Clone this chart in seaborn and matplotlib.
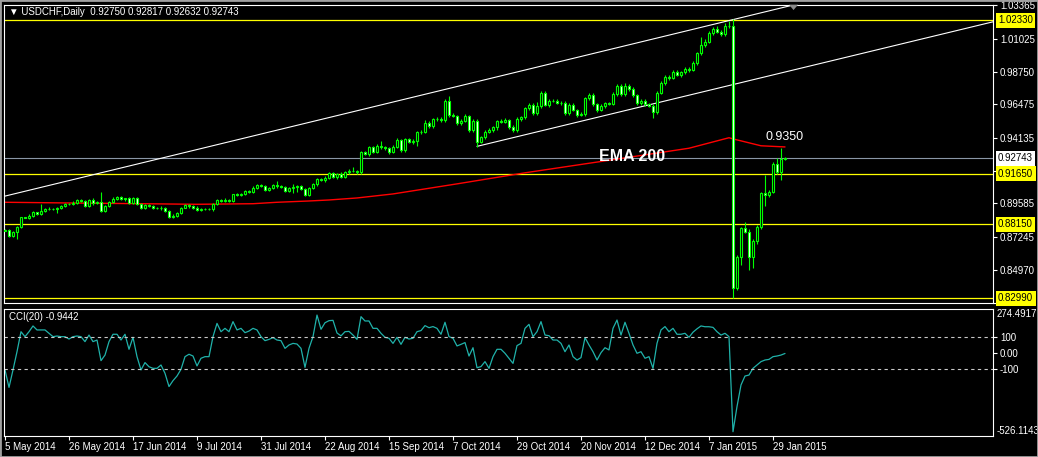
import numpy as np
import matplotlib
matplotlib.use('Agg')
import matplotlib.pyplot as plt
from matplotlib.patches import Rectangle, Polygon
import seaborn as sns

# ---- data (USDCHF daily, 5 May 2014 - 3 Feb 2015) ----
first_open = 0.8770
closes = [
    0.8774, 0.8732, 0.8763, 0.8793, 0.8862, 0.8860, 0.8874, 0.8897, 0.8885, 0.8909,
    0.8923, 0.8918, 0.8923, 0.8930, 0.8939, 0.8953, 0.8955, 0.8964, 0.8981, 0.8976,
    0.8943, 0.8985, 0.8960, 0.8971, 0.8906, 0.8939, 0.8969, 0.8992, 0.9001, 0.8987,
    0.8994, 0.8964, 0.8994, 0.8953, 0.8930, 0.8948, 0.8939, 0.8930, 0.8930, 0.8925,
    0.8904, 0.8867, 0.8874, 0.8890, 0.8930, 0.8946, 0.8939, 0.8930, 0.8913, 0.8918,
    0.8918, 0.8918, 0.8955, 0.8981, 0.8976, 0.8981, 0.8976, 0.9022, 0.9020, 0.9027,
    0.9046, 0.9041, 0.9069, 0.9085, 0.9083, 0.9052, 0.9064, 0.9087, 0.9078, 0.9073,
    0.9046, 0.9064, 0.9073, 0.9078, 0.9059, 0.9018, 0.9064, 0.9092, 0.9127, 0.9120,
    0.9138, 0.9168, 0.9143, 0.9166, 0.9143, 0.9175, 0.9187, 0.9185, 0.9175, 0.9315,
    0.9305, 0.9349, 0.9319, 0.9361, 0.9349, 0.9342, 0.9319, 0.9352, 0.9400, 0.9331,
    0.9405, 0.9386, 0.9393, 0.9454, 0.9458, 0.9516, 0.9498, 0.9544, 0.9549, 0.9539,
    0.9672, 0.9574, 0.9567, 0.9516, 0.9535, 0.9567, 0.9470, 0.9533, 0.9389, 0.9419,
    0.9458, 0.9470, 0.9488, 0.9533, 0.9528, 0.9539, 0.9493, 0.9470, 0.9544, 0.9558,
    0.9621, 0.9646, 0.9586, 0.9637, 0.9725, 0.9644, 0.9674, 0.9674, 0.9660, 0.9660,
    0.9586, 0.9642, 0.9609, 0.9577, 0.9581, 0.9690, 0.9713, 0.9648, 0.9609, 0.9639,
    0.9655, 0.9653, 0.9720, 0.9776, 0.9718, 0.9778, 0.9755, 0.9713, 0.9655, 0.9672,
    0.9648, 0.9639, 0.9597, 0.9730, 0.9795, 0.9839, 0.9834, 0.9871, 0.9853, 0.9871,
    0.9894, 0.9890, 0.9934, 1.0003, 1.0061, 1.0084, 1.0142, 1.0173, 1.0154, 1.0135,
    1.0196, 1.0193, 0.8368, 0.8589, 0.8786, 0.8763, 0.8584, 0.8698, 0.8793, 0.9029,
    0.9018, 0.9041, 0.9233, 0.9180, 0.9268, 0.92743,
]
# wick length above / below the body, in pips
hi_pips = [
    8, 6, 5, 6, 4, 5, 8, 6, 5, 44, 6, 8, 7, 6, 8, 6, 7, 10, 8, 6,
    6, 8, 9, 6, 65, 8, 6, 9, 7, 8, 6, 9, 7, 10, 6, 7, 9, 6, 7, 8,
    6, 8, 9, 10, 7, 6, 8, 7, 10, 9, 6, 8, 7, 10, 6, 19, 8, 6, 9, 7,
    8, 7, 9, 8, 12, 7, 8, 6, 28, 8, 7, 9, 23, 8, 6, 10, 8, 7, 12, 8,
    9, 8, 10, 7, 9, 8, 12, 23, 9, 8, 10, 9, 12, 10, 30, 8, 9, 10, 12, 8,
    10, 9, 14, 12, 9, 20, 15, 10, 12, 14, 10, 35, 12, 10, 12, 15, 10, 12, 14, 10,
    12, 15, 10, 9, 14, 12, 10, 9, 14, 12, 10, 15, 12, 25, 14, 15, 12, 10, 14, 12,
    12, 14, 15, 10, 13, 10, 15, 12, 10, 14, 12, 10, 13, 12, 15, 20, 14, 12, 10, 12,
    14, 12, 10, 12, 14, 10, 12, 14, 15, 10, 13, 12, 14, 12, 53, 16, 15, 14, 17, 13,
    15, 30, 47, 14, 12, 44, 15, 12, 14, 10, 128, 14, 12, 39, 77, 7,
]
lo_pips = [
    6, 8, 5, 51, 6, 5, 7, 6, 8, 6, 7, 8, 6, 28, 7, 6, 8, 7, 9, 6,
    8, 7, 9, 6, 10, 8, 7, 6, 9, 7, 8, 6, 9, 8, 7, 9, 6, 8, 7, 9,
    8, 10, 9, 7, 8, 6, 9, 8, 7, 10, 6, 8, 9, 7, 8, 10, 6, 9, 8, 7,
    9, 8, 7, 10, 8, 9, 7, 8, 10, 9, 8, 7, 32, 32, 8, 9, 10, 7, 9, 8,
    10, 9, 8, 12, 9, 10, 8, 9, 11, 10, 12, 14, 10, 9, 12, 10, 14, 12, 10, 12,
    12, 10, 14, 35, 12, 10, 15, 12, 10, 14, 12, 15, 10, 12, 14, 10, 12, 14, 35, 12,
    14, 10, 12, 15, 12, 10, 14, 12, 13, 10, 12, 14, 10, 15, 12, 10, 14, 12, 10, 15,
    14, 12, 10, 15, 12, 14, 10, 12, 15, 10, 14, 12, 10, 12, 14, 10, 12, 15, 10, 14,
    12, 10, 42, 15, 12, 10, 14, 12, 10, 13, 12, 14, 10, 12, 13, 12, 10, 14, 12, 10,
    12, 14, 69, 12, 58, 12, 88, 77, 21, 12, 77, 14, 12, 16, 60, 5,
]
cci = [
    -104, -213, -104, 10, 135, 104, 135, 171, 146, 146,
    146, 125, 104, 108, 104, 104, 89, 104, 108, 104,
    73, 114, 73, 83, -46, -11, 73, 119, 119, 83,
    119, 25, 100, -21, -104, -58, -84, -94, -94, -73,
    -125, -208, -171, -142, -100, -21, -6, -17, -79, -31,
    -21, -21, 104, 187, 135, 156, 135, 198, 146, 156,
    129, 139, 156, 146, 104, 79, 87, 98, 83, 79,
    31, 52, 62, 58, 31, -88, 31, 104, 239, 150,
    191, 204, 206, 127, 109, 135, 137, 114, 87, 229,
    202, 202, 156, 156, 125, 100, 94, 62, 100, 56,
    100, 89, 94, 135, 142, 173, 160, 167, 156, 119,
    194, 104, 94, 46, 56, 67, -17, 35, -90, -83,
    -52, -94, -21, 25, 25, 0, -31, -63, 48, 62,
    156, 181, 104, 135, 198, 114, 110, 83, 83, 62,
    10, 52, -21, -42, -27, 98, 52, 10, -42, 4,
    35, 21, 156, 208, 114, 194, 125, 52, 0, 10,
    -31, -21, -94, 62, 146, 167, 135, 156, 119, 119,
    125, 100, 132, 153, 171, 166, 166, 162, 135, 114,
    125, 104, -490, -333, -198, -142, -136, -94, -73, -52,
    -42, -38, -21, -17, -11, -1,
]
ema_idx = [0, 20, 48, 62, 68, 76, 81, 88, 97, 113, 130, 150, 171, 181, 182, 189, 195]
ema_val = [0.8967, 0.8961, 0.8953, 0.8957, 0.8967, 0.8976, 0.8983, 0.8997, 0.9025,
           0.9095, 0.9172, 0.9255, 0.9343, 0.9416, 0.9408, 0.9360, 0.9352]

date_idx = [0, 16, 32, 48, 64, 80, 96, 112, 128, 144, 160, 176, 192]
date_labels = ['5 May 2014', '26 May 2014', '17 Jun 2014', '9 Jul 2014', '31 Jul 2014',
               '22 Aug 2014', '15 Sep 2014', '7 Oct 2014', '29 Oct 2014', '20 Nov 2014',
               '12 Dec 2014', '7 Jan 2015', '29 Jan 2015']
price_ticks = [1.03365, 1.01025, 0.98750, 0.96475, 0.94135, 0.91860, 0.89585,
               0.87245, 0.84970, 0.82695]
# labels of the scale that sit under a highlighted price box are left blank
hidden_ticks = [0.91860, 0.82695]
levels = [1.02330, 0.91650, 0.88150, 0.82990]
bid = 0.92743
chan_up_x, chan_up_y = [0, 185], [0.9010, 1.0258]
chan_lo_x, chan_lo_y = [118, 185], [0.9356, 0.9806]
ema_note = '0.9350'

W, H = 1038, 457
fig = plt.figure(figsize=(W / 100, H / 100), dpi=100)
sns.set_theme(style='dark', rc={'axes.facecolor': 'black', 'figure.facecolor': 'black',
                                'axes.edgecolor': 'white', 'axes.grid': False,
                                'text.color': 'white', 'xtick.color': 'white',
                                'ytick.color': 'white'})
plt.rcParams['font.family'] = ['Liberation Sans', 'DejaVu Sans']
fig.set_facecolor('black')


def px_box(x0, y0, x1, y1):
    return [x0 / W, 1 - y1 / H, (x1 - x0) / W, (y1 - y0) / H]


ax = fig.add_axes(px_box(4.5, 4.7, 993, 303))
ax2 = fig.add_axes(px_box(4.5, 309, 993, 436))
for a in (ax, ax2):
    a.set_facecolor('black')
    for s in a.spines.values():
        s.set_color('white')
        s.set_linewidth(0.8)

n = len(closes)
idx = np.arange(n)
c = np.array(closes)
o = np.concatenate([[first_open], c[:-1]])
top = np.maximum(o, c)
bot = np.minimum(o, c)
highs = top + np.array(hi_pips) / 1e4
lows = bot - np.array(lo_pips) / 1e4

# horizontal levels
for lv in levels:
    ax.axhline(lv, color='#ffff00', lw=0.9, zorder=1)
ax.axhline(bid, color='#8a96a6', lw=0.8, zorder=1)

# channel lines (rays to the right)
x_end = 247
for xs, ys in ((chan_up_x, chan_up_y), (chan_lo_x, chan_lo_y)):
    slope = (ys[1] - ys[0]) / (xs[1] - xs[0])
    lx = np.array([xs[0], x_end])
    ly = ys[0] + slope * (lx - xs[0])
    sns.lineplot(x=lx, y=ly, ax=ax, color='white', lw=0.8, zorder=2)

# EMA 200
sns.lineplot(x=np.array(ema_idx), y=np.array(ema_val), ax=ax, color='#ff0000', lw=1.0, zorder=2)

# candles
ax.vlines(idx, lows, highs, color='#00ff00', lw=0.8, zorder=3)
face = np.where(c >= o, 'black', 'white')
ax.bar(idx, top - bot, bottom=bot, width=0.5, color=face, edgecolor='#00ff00',
       linewidth=0.8, zorder=4)

ax.set_xlim(-0.125, 247)
ax.set_ylim(0.82663, 1.03415)
ax.set_xticks([])
ax.yaxis.tick_right()
ax.set_yticks(price_ticks)
ax.set_yticklabels(['' if t in hidden_ticks else f'{t:.5f}' for t in price_ticks])
ax.tick_params(axis='y', right=True, length=3, width=0.8, pad=2, labelsize=7,
               colors='white')

for lv in levels:
    ax.annotate(f'{lv:.5f}', xy=(1, lv), xycoords=('axes fraction', 'data'),
                xytext=(3.6, 0), textcoords='offset points', ha='left', va='center',
                fontsize=7, color='black', annotation_clip=False, zorder=6,
                bbox=dict(boxstyle='square,pad=0.25', fc='#ffff00', ec='none'))
ax.annotate(f'{bid:.5f}', xy=(1, bid), xycoords=('axes fraction', 'data'),
            xytext=(3.6, 0), textcoords='offset points', ha='left', va='center',
            fontsize=7, color='black', annotation_clip=False, zorder=6,
            bbox=dict(boxstyle='square,pad=0.25', fc='white', ec='none'))

ax.text(0.0046, 0.974, '\u25bc USDCHF,Daily  0.92750 0.92817 0.92632 0.92743',
        transform=ax.transAxes, fontsize=7, color='white', va='center', ha='left')
ax.text(148.5, 0.9282, 'EMA 200', fontsize=11.5, fontweight='bold', color='white',
        va='center', ha='left')
ax.text(190.25, 0.9418, ema_note, fontsize=9, color='white', va='center', ha='left')

# chart-shift marker at the top
ax.add_patch(Polygon([[0.7937, 1.0], [0.8028, 1.0], [0.7982, 0.982]], closed=True,
                     transform=ax.transAxes, fc='#8a8a8a', ec='none', clip_on=False,
                     zorder=7))

# CCI panel
sns.lineplot(x=idx, y=np.array(cci), ax=ax2, color='#20b2aa', lw=0.9)
for lv in (100, -100):
    ax2.axhline(lv, color='#c8c8c8', lw=0.8, ls=(0, (3, 3)))
ax2.set_xlim(-0.125, 247)
ax2.set_ylim(-516.9, 276.9)
ax2.yaxis.tick_right()
ax2.set_yticks([100, 0, -100])
ax2.set_yticklabels(['100', '0.00', '-100'])
ax2.tick_params(axis='y', right=True, length=3, width=0.8, pad=2, labelsize=7,
                colors='white')
ax2.set_xticks(date_idx)
ax2.set_xticklabels(date_labels, ha='left')
ax2.tick_params(axis='x', bottom=True, length=3, width=0.8, pad=1.5, labelsize=7,
                colors='white')
ax2.set_xlabel('')
ax2.set_ylabel('')
ax.set_xlabel('')
ax.set_ylabel('')
ax2.text(1.0036, 1.0, '274.4917', transform=ax2.transAxes, fontsize=7, color='white',
         ha='left', va='top')
ax2.text(1.0036, 0.0, '-526.1143', transform=ax2.transAxes, fontsize=7, color='white',
         ha='left', va='bottom')
ax2.text(0.0046, 0.937, 'CCI(20) -0.9442', transform=ax2.transAxes, fontsize=7,
         color='white', va='center', ha='left')

# window frame
fig.patches.append(Rectangle((0, 0), 1, 1, transform=fig.transFigure, fill=False,
                             ec='#a0a0a0', lw=2))

fig.savefig('out.png', dpi=100, facecolor='black')
